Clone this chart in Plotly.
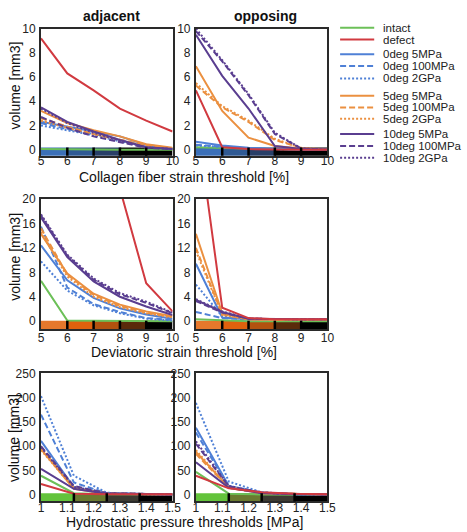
import plotly.graph_objects as go

# ---------------- data ----------------
series_names = ["intact", "defect",
                "0deg 5MPa", "0deg 100MPa", "0deg 2GPa",
                "5deg 5MPa", "5deg 100MPa", "5deg 2GPa",
                "10deg 5MPa", "10deg 100MPa", "10deg 2GPa"]
series_colors = ["#6cc058", "#d13a40",
                 "#4f80d6", "#4f80d6", "#4f80d6",
                 "#eb9040", "#eb9040", "#eb9040",
                 "#5a3e90", "#5a3e90", "#5a3e90"]
series_dashes = ["solid", "solid",
                 "solid", "6px,3px", "2px,2px",
                 "solid", "6px,3px", "2px,2px",
                 "solid", "6px,3px", "2px,2px"]

strain_x = [5, 6, 7, 8, 9, 10]
pressure_x = [1, 1.125, 1.25, 1.375, 1.5]

strain_ticks = [5, 6, 7, 8, 9, 10]
pressure_ticks = [1, 1.1, 1.2, 1.3, 1.4, 1.5]

# collagen fibre strain threshold [%] -> volume [mm3]
adj_collagen = [
    [0.05, 0.02, 0, 0, 0, 0],
    [9.2, 6.3, 4.9, 3.4, 2.4, 1.5],
    [2.3, 1.9, 1.5, 1.1, 0.4, 0.1],
    [2.2, 1.7, 1.3, 0.8, 0.3, 0.05],
    [2.0, 1.6, 1.2, 0.7, 0.25, 0.05],
    [3.2, 2.2, 1.6, 1.1, 0.45, 0.15],
    [2.6, 1.9, 1.3, 0.85, 0.35, 0.1],
    [2.4, 1.8, 1.3, 0.8, 0.3, 0.1],
    [3.5, 2.3, 1.5, 0.8, 0.2, 0.05],
    [2.7, 1.8, 1.1, 0.6, 0.15, 0.05],
    [3.4, 2.2, 1.4, 0.75, 0.2, 0.05],
]
opp_collagen = [
    [0.2, 0.15, 0.05, 0, 0, 0],
    [4.9, 0.2, 0.05, 0, 0, 0],
    [0.65, 0.35, 0.15, 0.05, 0, 0],
    [0.4, 0.25, 0.1, 0.05, 0, 0],
    [0.35, 0.2, 0.1, 0.05, 0, 0],
    [6.9, 3.2, 1.0, 0.3, 0.1, 0],
    [5.3, 3.5, 2.3, 0.8, 0.15, 0],
    [5.5, 3.6, 2.4, 0.9, 0.15, 0],
    [9.5, 6.1, 3.4, 0.3, 0.05, 0],
    [9.8, 7.3, 4.5, 1.3, 0.1, 0],
    [10.0, 7.4, 4.6, 1.4, 0.1, 0],
]
# deviatoric strain threshold [%] -> volume [mm3]
adj_deviatoric = [
    [6.6, 0.1, 0.05, 0, 0, 0],
    [48, 38, 30, 21.7, 6.2, 1.6],
    [12.4, 6.7, 3.8, 2.1, 1.1, 0.4],
    [15.5, 5.5, 2.8, 1.5, 0.5, 0.2],
    [9.8, 5.0, 2.6, 1.3, 0.4, 0.1],
    [14.3, 7.8, 4.5, 2.7, 1.6, 0.8],
    [15.2, 7.6, 4.3, 2.5, 1.4, 0.7],
    [14.6, 7.3, 4.0, 2.3, 1.3, 0.6],
    [17.0, 10.5, 6.5, 4.0, 2.4, 1.0],
    [17.3, 10.7, 6.8, 4.4, 3.0, 1.3],
    [17.5, 10.9, 7.0, 4.6, 3.2, 1.4],
]
opp_deviatoric = [
    [0.3, 0.1, 0, 0, 0, 0],
    [34, 2.2, 0.5, 0.3, 0.3, 0.3],
    [9.4, 0.6, 0.3, 0.2, 0.2, 0.2],
    [1.5, 0.5, 0.3, 0.2, 0.2, 0.2],
    [6.0, 0.8, 0.3, 0.2, 0.2, 0.2],
    [14.3, 1.3, 0.3, 0.2, 0.2, 0.2],
    [12.0, 1.1, 0.3, 0.2, 0.2, 0.2],
    [11.5, 1.0, 0.3, 0.2, 0.2, 0.2],
    [3.5, 1.5, 0.4, 0.3, 0.3, 0.3],
    [3.3, 1.4, 0.4, 0.3, 0.3, 0.3],
    [3.6, 1.6, 0.4, 0.3, 0.3, 0.3],
]
# hydrostatic pressure threshold [MPa] -> volume [mm3]
adj_hydrostatic = [
    [39, 3, 1, 0.5, 0.5],
    [22, 2, 1, 1, 1],
    [111, 15, 3, 1, 0.5],
    [165, 25, 3, 1, 0.5],
    [203, 39, 4, 1, 0.5],
    [94, 12, 2, 1, 0.5],
    [97, 14, 3, 1, 0.5],
    [92, 13, 2, 1, 0.5],
    [53, 12, 2, 1, 0.5],
    [100, 18, 3, 1, 0.5],
    [98, 16, 3, 1, 0.5],
]
opp_hydrostatic = [
    [47, 2, 0.5, 0, 0],
    [39, 13, 5, 2, 1],
    [138, 18, 4, 1, 0.5],
    [128, 17, 4, 1, 0.5],
    [189, 27, 5, 1, 0.5],
    [88, 15, 3, 1, 0.5],
    [84, 14, 3, 1, 0.5],
    [92, 15, 3, 1, 0.5],
    [67, 14, 3, 1, 0.5],
    [105, 17, 4, 1, 0.5],
    [110, 18, 4, 1, 0.5],
]

# colour-band categories under each axis
collagen_bands = [5, 6, 7, 8, 10]
collagen_band_colors = ["#3c70b8", "#305a94", "#283f68", "#000000"]
collagen_dividers = [6, 7, 8, 9]
deviatoric_bands = [5, 6, 7, 8, 9, 10]
deviatoric_band_colors = ["#e6782c", "#e0610d", "#b2520f", "#5a2b0b", "#000000"]
deviatoric_dividers = [6, 7, 8, 9]
pressure_bands = [1, 1.125, 1.25, 1.375, 1.5]
pressure_band_colors = ["#63c33b", "#6a7a30", "#3d3b32", "#000000"]
pressure_dividers = [1.125, 1.25, 1.375]

# ---------------- layout helpers ----------------
W, H = 467, 532
FONT = "Liberation Sans, Arial, sans-serif"


def fx(p):
    return p / W


def fy(p):
    return 1 - p / H


col_px = [(39, 174), (198, 333)]
row_px = [(22, 151), (195, 327), (372, 502)]
row_label_standoff = [-7, -3, -6]

panels = [
    # row, col, x, data, yrange, ytick step, xticks, bands, colours, dividers
    (0, 0, strain_x, adj_collagen, [-0.5, 10], 2, strain_ticks, collagen_bands, collagen_band_colors, collagen_dividers),
    (0, 1, strain_x, opp_collagen, [-0.5, 10], 2, strain_ticks, collagen_bands, collagen_band_colors, collagen_dividers),
    (1, 0, strain_x, adj_deviatoric, [-1.3, 20], 4, strain_ticks, deviatoric_bands, deviatoric_band_colors, deviatoric_dividers),
    (1, 1, strain_x, opp_deviatoric, [-1.3, 20], 4, strain_ticks, deviatoric_bands, deviatoric_band_colors, deviatoric_dividers),
    (2, 0, pressure_x, adj_hydrostatic, [-14, 250], 50, pressure_ticks, pressure_bands, pressure_band_colors, pressure_dividers),
    (2, 1, pressure_x, opp_hydrostatic, [-14, 250], 50, pressure_ticks, pressure_bands, pressure_band_colors, pressure_dividers),
]

fig = go.Figure()
shapes = []
annotations = []
draw_order = [0, 2, 3, 4, 5, 6, 7, 8, 9, 10, 1]

for idx, (r, c, xs, data, yr, ystep, xt, bands, bcols, divs) in enumerate(panels):
    n = idx + 1
    xa = "x" if n == 1 else f"x{n}"
    ya = "y" if n == 1 else f"y{n}"
    for k in draw_order:
        fig.add_trace(go.Scatter(
            x=xs, y=data[k], mode="lines", name=series_names[k],
            line=dict(color=series_colors[k], width=2, dash=series_dashes[k]),
            xaxis=xa, yaxis=ya, showlegend=False, hoverinfo="skip"))
    x0p, x1p = col_px[c]
    y0p, y1p = row_px[r]
    ticktext = [("%g" % v) for v in xt]
    fig.update_layout(**{
        ("xaxis" if n == 1 else f"xaxis{n}"): dict(
            domain=[fx(x0p), fx(x1p)], anchor=ya, range=[xs[0], xs[-1]],
            tickvals=xt, ticktext=ticktext, ticks="", showgrid=False, zeroline=False,
            ticklabelstandoff=row_label_standoff[r],
            showline=True, mirror=True, linecolor="#2a2a2a", linewidth=2,
            tickfont=dict(family=FONT, size=12, color="#222")),
        ("yaxis" if n == 1 else f"yaxis{n}"): dict(
            domain=[fy(y1p), fy(y0p)], anchor=xa, range=yr,
            tickvals=list(range(0, int(yr[1]) + 1, ystep)), ticks="",
            showgrid=False, zeroline=False, ticklabelstandoff=1,
            showline=True, mirror=True, linecolor="#2a2a2a", linewidth=2,
            tickfont=dict(family=FONT, size=12, color="#222")),
    })
    band_h = 0.065
    for b in range(len(bcols)):
        shapes.append(dict(type="rect", xref=xa, yref=f"{ya} domain",
                           x0=bands[b], x1=bands[b + 1], y0=0, y1=band_h,
                           fillcolor=bcols[b], line=dict(width=0), layer="below"))
    for d in divs:
        shapes.append(dict(type="line", xref=xa, yref=f"{ya} domain",
                           x0=d, x1=d, y0=0, y1=band_h,
                           line=dict(color="#000", width=2.5), layer="above"))

# column titles
for text, xc in [("adjacent", 111), ("opposing", 269)]:
    annotations.append(dict(text=f"<b>{text}</b>", x=fx(xc), y=fy(9), xref="paper", yref="paper",
                            showarrow=False, font=dict(family=FONT, size=14, color="#111"),
                            xanchor="center", yanchor="middle"))
# x-axis titles
for text, yc in [("Collagen fiber strain threshold [%]", 173),
                 ("Deviatoric strain threshold [%]", 350),
                 ("Hydrostatic pressure thresholds [MPa]", 523)]:
    annotations.append(dict(text=text, x=fx(186), y=fy(yc), xref="paper", yref="paper",
                            showarrow=False, font=dict(family=FONT, size=14, color="#111"),
                            xanchor="center", yanchor="middle"))
# y-axis titles
for yc in [80, 254, 438]:
    annotations.append(dict(text="volume [mm3]", x=fx(12), y=fy(yc), xref="paper", yref="paper",
                            showarrow=False, textangle=-90,
                            font=dict(family=FONT, size=14, color="#111"),
                            xanchor="center", yanchor="middle"))

# legend (drawn from the series lists)
legend_rows = [21, 33, 48, 60, 72.5, 90, 102, 113.5, 129, 141, 153]
for k, yrow in enumerate(legend_rows):
    shapes.append(dict(type="line", xref="paper", yref="paper",
                       x0=fx(346), x1=fx(381), y0=fy(yrow), y1=fy(yrow),
                       line=dict(color=series_colors[k], width=2, dash=series_dashes[k])))
    annotations.append(dict(text=series_names[k], x=fx(388), y=fy(yrow), xref="paper", yref="paper",
                            showarrow=False, xanchor="left", yanchor="middle",
                            font=dict(family=FONT, size=11.5, color="#222")))

fig.update_layout(width=W, height=H, margin=dict(l=0, r=0, t=0, b=0),
                  paper_bgcolor="white", plot_bgcolor="white",
                  showlegend=False, shapes=shapes, annotations=annotations,
                  font=dict(family=FONT), hovermode=False)

fig.write_html("out.html", config={"displayModeBar": False, "staticPlot": True},
               post_script="document.body.style.margin='0';document.body.style.overflow='hidden';")
